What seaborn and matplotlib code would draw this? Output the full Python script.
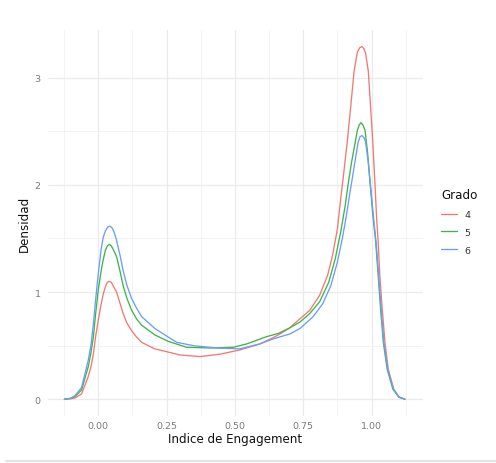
import numpy as np
import pandas as pd
import matplotlib
matplotlib.use("Agg")
from matplotlib import pyplot as plt
from matplotlib.lines import Line2D
import seaborn as sns

# valores (curvas de densidad por grado)
x_g4 = [-0.124, -0.100, -0.085, -0.061, -0.037, -0.027, -0.018, -0.010, 0.000, 0.010, 0.018,
        0.026, 0.033, 0.040, 0.048, 0.056, 0.067, 0.079, 0.091, 0.105, 0.122, 0.140, 0.159,
        0.207, 0.256, 0.299, 0.372, 0.445, 0.518, 0.591, 0.640, 0.665, 0.700, 0.724, 0.774,
        0.810, 0.839, 0.857, 0.875, 0.887, 0.899, 0.911, 0.924, 0.936, 0.948, 0.957, 0.965,
        0.972, 0.978, 0.988, 0.996, 1.005, 1.012, 1.018, 1.024, 1.030, 1.039, 1.049, 1.061,
        1.081, 1.100, 1.122]
y_g4 = [0.00, 0.004, 0.012, 0.05, 0.21, 0.30, 0.42, 0.58, 0.74, 0.88, 0.98,
        1.05, 1.09, 1.10, 1.09, 1.05, 1.00, 0.90, 0.80, 0.71, 0.64, 0.58, 0.53,
        0.47, 0.44, 0.413, 0.398, 0.42, 0.46, 0.516, 0.575, 0.609, 0.665, 0.72, 0.83,
        0.97, 1.155, 1.34, 1.59, 1.87, 2.13, 2.40, 2.74, 3.06, 3.24, 3.28, 3.29,
        3.27, 3.23, 3.06, 2.74, 2.37, 2.03, 1.71, 1.47, 1.16, 0.84, 0.53, 0.28,
        0.094, 0.02, 0.00]

x_g5 = [-0.124, -0.100, -0.085, -0.061, -0.037, -0.027, -0.018, -0.010, 0.000, 0.010, 0.018,
        0.026, 0.033, 0.040, 0.048, 0.056, 0.067, 0.079, 0.091, 0.105, 0.122, 0.140, 0.159,
        0.207, 0.256, 0.323, 0.409, 0.494, 0.543, 0.616, 0.660, 0.700, 0.738, 0.774, 0.810,
        0.843, 0.867, 0.887, 0.903, 0.915, 0.926, 0.936, 0.948, 0.955, 0.961, 0.968, 0.976,
        0.985, 0.994, 1.005, 1.015, 1.024, 1.033, 1.043, 1.057, 1.078, 1.100, 1.122]
y_g5 = [0.00, 0.008, 0.025, 0.087, 0.30, 0.43, 0.58, 0.79, 1.02, 1.19, 1.30,
        1.39, 1.43, 1.445, 1.43, 1.39, 1.33, 1.20, 1.06, 0.94, 0.83, 0.75, 0.69,
        0.60, 0.54, 0.485, 0.478, 0.485, 0.516, 0.584, 0.615, 0.665, 0.72, 0.80, 0.91,
        1.09, 1.31, 1.56, 1.80, 2.02, 2.20, 2.34, 2.51, 2.56, 2.58, 2.56, 2.51,
        2.31, 2.03, 1.71, 1.47, 1.16, 0.84, 0.53, 0.28, 0.094, 0.02, 0.00]

x_g6 = [-0.124, -0.100, -0.085, -0.061, -0.037, -0.027, -0.018, -0.010, 0.000, 0.010, 0.018,
        0.026, 0.034, 0.043, 0.050, 0.058, 0.067, 0.079, 0.091, 0.105, 0.122, 0.140, 0.159,
        0.207, 0.256, 0.287, 0.348, 0.433, 0.518, 0.591, 0.640, 0.701, 0.738, 0.786, 0.821,
        0.851, 0.875, 0.893, 0.907, 0.919, 0.930, 0.942, 0.951, 0.958, 0.965, 0.972, 0.978,
        0.988, 0.997, 1.007, 1.017, 1.026, 1.035, 1.045, 1.059, 1.080, 1.100, 1.122]
y_g6 = [0.00, 0.01, 0.034, 0.11, 0.36, 0.50, 0.70, 0.92, 1.17, 1.39, 1.51,
        1.57, 1.605, 1.615, 1.60, 1.56, 1.48, 1.35, 1.20, 1.06, 0.94, 0.85, 0.77,
        0.66, 0.58, 0.531, 0.50, 0.478, 0.47, 0.516, 0.563, 0.609, 0.66, 0.77, 0.89,
        1.06, 1.28, 1.50, 1.70, 1.90, 2.07, 2.26, 2.40, 2.45, 2.46, 2.44, 2.40,
        2.21, 1.97, 1.70, 1.45, 1.15, 0.84, 0.53, 0.28, 0.094, 0.02, 0.00]

grados = ["4", "5", "6"]
colores = ["#F07A72", "#3DB54A", "#6A9EF8"]

df = pd.concat([
    pd.DataFrame({"Indice de Engagement": x_g4, "Densidad": y_g4, "Grado": "4"}),
    pd.DataFrame({"Indice de Engagement": x_g5, "Densidad": y_g5, "Grado": "5"}),
    pd.DataFrame({"Indice de Engagement": x_g6, "Densidad": y_g6, "Grado": "6"}),
], ignore_index=True)

sns.set_style("white")
plt.rcParams["font.family"] = ["DejaVu Sans"]

fig = plt.figure(figsize=(4.96, 4.64), dpi=100)
ax = fig.add_axes([0.0962, 0.1007, 0.7560, 0.8325])

sns.lineplot(data=df, x="Indice de Engagement", y="Densidad", hue="Grado",
             hue_order=grados, palette=colores, estimator=None, linewidth=0.95, ax=ax)
for ln in ax.get_lines():
    ln.set_solid_joinstyle("round")

ax.set_xlim(-0.185, 1.187)
ax.set_ylim(-0.159, 3.445)

ax.set_xticks([0.0, 0.25, 0.5, 0.75, 1.0])
ax.set_xticklabels(["0.00", "0.25", "0.50", "0.75", "1.00"])
ax.set_yticks([0, 1, 2, 3])
ax.set_xticks([-0.125, 0.125, 0.375, 0.625, 0.875, 1.125], minor=True)
ax.set_yticks([0.5, 1.5, 2.5], minor=True)

ax.grid(which="major", color="#ebebeb", linewidth=0.9)
ax.grid(which="minor", color="#f1f1f1", linewidth=0.6)
ax.set_axisbelow(True)
for s in ax.spines.values():
    s.set_visible(False)

ax.tick_params(axis="both", which="both", length=0, labelsize=6.8, labelcolor="#7a7a7a")
ax.tick_params(axis="x", pad=3.5)
ax.tick_params(axis="y", pad=5)

ax.set_xlabel("Indice de Engagement", fontsize=8.6, color="#111111")
ax.set_ylabel("Densidad", fontsize=8.6, color="#111111")
ax.xaxis.set_label_coords(0.5, -0.042)
ax.yaxis.set_label_coords(-0.045, 0.5)

leg = ax.legend(title="Grado", loc="upper left", bbox_to_anchor=(0.889, 0.593),
                bbox_transform=fig.transFigure, frameon=False, fontsize=6.8,
                title_fontsize=8.6, handlelength=1.65, handletextpad=0.85,
                labelspacing=0.95, borderpad=0, borderaxespad=0, alignment="left")
for t in leg.get_texts():
    t.set_color("#333333")
leg.get_title().set_color("#111111")
for h in leg.legend_handles:
    h.set_linewidth(0.95)

# linea gris del borde inferior
fig.add_artist(Line2D([6 / 496, 1.0], [1 - 462 / 464, 1 - 462 / 464],
                      transform=fig.transFigure, color="#e3e3e3", linewidth=1.5))

fig.savefig("out.png", dpi=100)
